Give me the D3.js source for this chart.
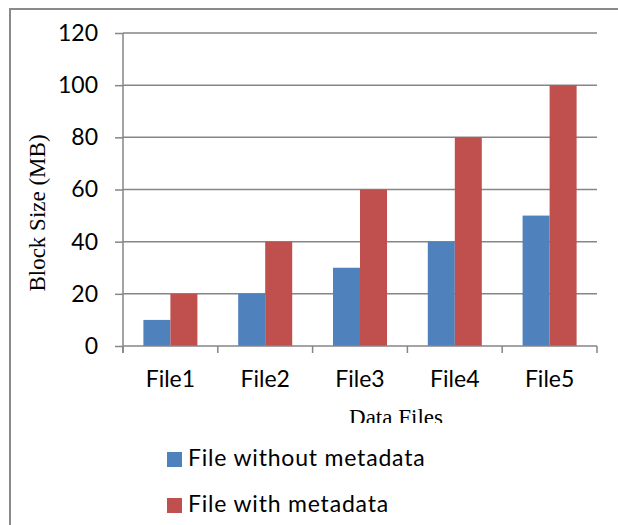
<!DOCTYPE html>
<html>
<head>
<meta charset="utf-8">
<script src="https://cdn.jsdelivr.net/npm/d3@7"></script>
<style>
  html, body { margin: 0; padding: 0; background: #fff; }
  svg { display: block; }
</style>
</head>
<body>
<svg id="chart" width="618" height="525"></svg>
<script>
// Block size per data file, with and without metadata
const categories = ["File1", "File2", "File3", "File4", "File5"];
const seriesNames = ["File without metadata", "File with metadata"];
const withoutMetadata = [10, 20, 30, 40, 50];
const withMetadata = [20, 40, 60, 80, 100];
const yTicks = [0, 20, 40, 60, 80, 100, 120];
const colors = ["#4F81BD", "#C0504D"];

const seriesValues = [withoutMetadata, withMetadata];
const svg = d3.select("#chart");
const gridColor = "#868686";
const sansFont = "Lato, 'Open Sans', sans-serif";
const serifFont = "'Liberation Serif', 'Times New Roman', serif";

const plot = { left: 123, right: 597, top: 33, bottom: 346 };

// chart frame (top and left edges)
svg.append("path")
  .attr("d", "M10,525 L10,9 L618,9")
  .attr("fill", "none")
  .attr("stroke", "#8a8a8a")
  .attr("stroke-width", 2);

const x = d3.scaleBand().domain(categories).range([plot.left, plot.right]);
const y = d3.scaleLinear().domain([0, 120]).range([plot.bottom, plot.top]);
const inner = d3.scaleBand().domain(d3.range(seriesNames.length))
  .range([0, x.bandwidth()]).paddingOuter(0.755);

// horizontal gridlines
svg.append("g").selectAll("line").data(yTicks.filter(d => d > 0)).join("line")
  .attr("x1", plot.left).attr("x2", plot.right)
  .attr("y1", d => y(d)).attr("y2", d => y(d))
  .attr("stroke", gridColor).attr("stroke-width", 1.5);

// bars
seriesValues.forEach((vals, s) => {
  svg.append("g").selectAll("rect").data(categories).join("rect")
    .attr("x", c => x(c) + inner(s))
    .attr("width", inner.bandwidth())
    .attr("y", (c, i) => y(vals[i]))
    .attr("height", (c, i) => y(0) - y(vals[i]))
    .attr("fill", colors[s]);
});

// y axis
const yAxis = svg.append("g")
  .attr("transform", `translate(${plot.left},0)`)
  .call(d3.axisLeft(y).tickValues(yTicks).tickSize(8).tickPadding(17));
yAxis.select(".domain").attr("stroke", gridColor).attr("stroke-width", 1.5)
  .attr("d", `M0,${plot.top}V${plot.bottom + 7}`);
yAxis.selectAll(".tick line").attr("stroke", gridColor).attr("stroke-width", 1.5);
yAxis.selectAll(".tick text")
  .attr("font-family", sansFont).attr("font-size", 23).attr("fill", "#000");

// x axis line with boundary ticks between categories
const boundaries = categories.map(c => x(c)).concat([x.range()[1]]);
svg.append("line")
  .attr("x1", plot.left).attr("x2", plot.right)
  .attr("y1", plot.bottom).attr("y2", plot.bottom)
  .attr("stroke", gridColor).attr("stroke-width", 1.5);
svg.append("g").selectAll("line").data(boundaries).join("line")
  .attr("x1", d => d).attr("x2", d => d)
  .attr("y1", plot.bottom).attr("y2", plot.bottom + 7)
  .attr("stroke", gridColor).attr("stroke-width", 1.5);

// category labels
const xAxis = svg.append("g")
  .attr("transform", `translate(0,${plot.bottom})`)
  .call(d3.axisBottom(x).tickSize(0).tickPadding(25));
xAxis.select(".domain").remove();
xAxis.selectAll(".tick text")
  .attr("font-family", sansFont).attr("font-size", 23).attr("fill", "#000");

// axis titles
svg.append("text")
  .attr("transform", "translate(45,213) rotate(-90)")
  .attr("text-anchor", "middle")
  .attr("font-family", serifFont).attr("font-size", 23)
  .text("Block Size (MB)");

svg.append("clipPath").attr("id", "xTitleClip")
  .append("rect").attr("x", 0).attr("y", 0).attr("width", 618).attr("height", 423);
svg.append("text")
  .attr("x", 396).attr("y", 425)
  .attr("text-anchor", "middle")
  .attr("clip-path", "url(#xTitleClip)")
  .attr("font-family", serifFont).attr("font-size", 23)
  .text("Data Files");

// legend
const legend = svg.append("g").selectAll("g").data(seriesNames).join("g")
  .attr("transform", (d, i) => `translate(167,${452 + i * 46})`);
legend.append("rect")
  .attr("width", 15).attr("height", 15)
  .attr("fill", (d, i) => colors[i]);
legend.append("text")
  .attr("x", 21).attr("y", 14)
  .attr("font-family", sansFont).attr("font-size", 23).attr("fill", "#000")
  .attr("letter-spacing", 0.8)
  .text(d => d);
</script>
</body>
</html>
